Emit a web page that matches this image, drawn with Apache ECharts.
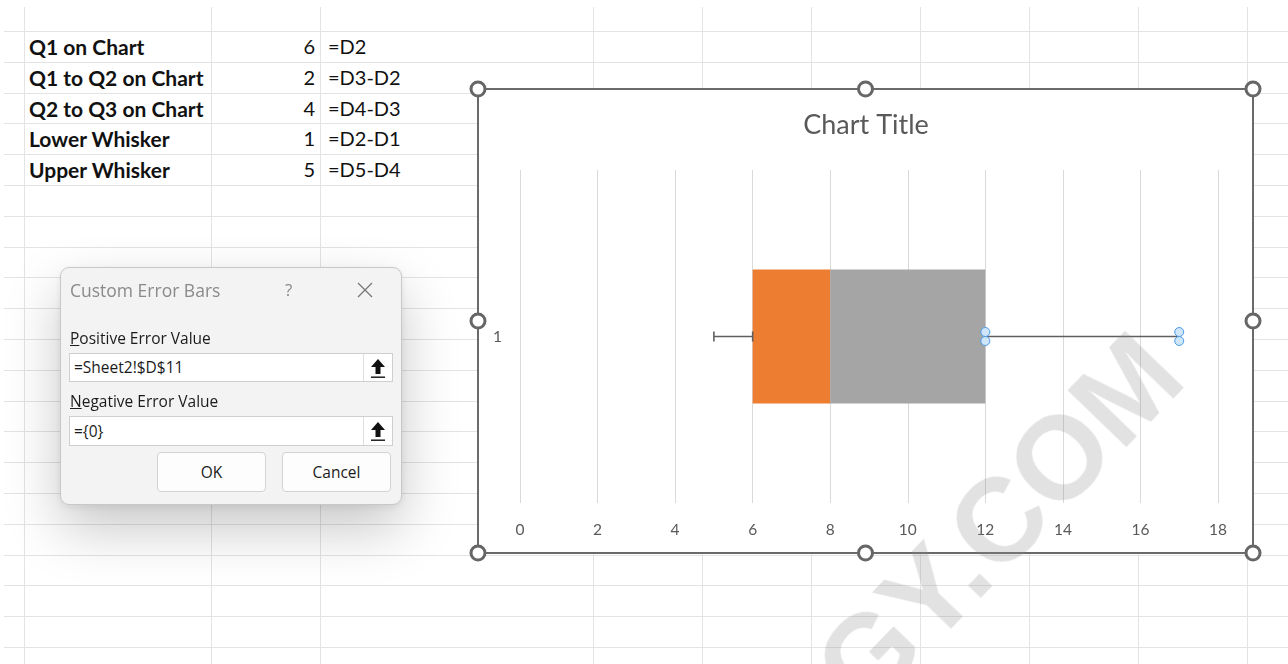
<!DOCTYPE html>
<html>
<head>
<meta charset="utf-8">
<title>Box plot with error bars</title>
<script src="https://cdn.jsdelivr.net/npm/echarts@6/dist/echarts.min.js"></script>
<style>
  body { margin: 0; width: 1288px; height: 664px; position: relative; overflow: hidden; background: #fff; font-family: Lato, 'Open Sans', sans-serif; }
  .hl { position: absolute; left: 4px; right: 0; height: 1px; background: #e3e3e3; }
  .vl { position: absolute; top: 7px; bottom: 0; width: 1px; background: #e3e3e3; }
  .cell { position: absolute; height: 31px; line-height: 31px; font-size: 20px; color: #111; white-space: nowrap; }
  .lbl { left: 29px; font-weight: bold; font-size: 21px; }
  .num { left: 215px; width: 100px; text-align: right; }
  .fml { left: 328px; }
  #dlg { position: absolute; left: 60px; top: 267px; width: 342px; height: 238px; box-sizing: border-box;
         background: #f3f3f3; border: 1px solid #c8c8c8; border-radius: 9px;
         box-shadow: 0 24px 55px rgba(0,0,0,0.22), 0 2px 8px rgba(0,0,0,0.08);
         font-family: 'Open Sans', 'Noto Sans', sans-serif; z-index: 5; }
  #dlg .t { position: absolute; top: 10px; left: 9px; font-size: 17.5px; line-height: 24px; color: #8a8a8a; }
  #dlg .q { position: absolute; top: 10px; left: 224px; font-size: 17px; line-height: 24px; color: #8a8a8a; }
  #dlg .x { position: absolute; top: 14px; left: 296px; }
  #dlg .l { position: absolute; left: 9px; font-size: 15.5px; line-height: 22px; color: #1b1b1b; }
  #dlg .in { position: absolute; left: 8px; width: 324px; background: #fff; border: 1px solid #cfcfcf; box-sizing: border-box;
             font-size: 15.5px; color: #1b1b1b; padding-left: 4px; }
  #dlg .in .b { position: absolute; right: 0; top: 0; bottom: 0; width: 28px; border-left: 1px solid #dedede; display: flex; align-items: center; justify-content: center; }
  #dlg .btn { position: absolute; top: 184px; width: 109px; height: 40px; box-sizing: border-box; background: #fdfdfd;
              border: 1px solid #d2d2d2; border-radius: 4px; text-align: center; line-height: 38px; font-size: 15.5px; color: #1b1b1b; }
  #chart { position: absolute; left: 466px; top: 77px; width: 800px; height: 490px; z-index: 3; }
  #wm { position: absolute; left: 998px; top: 521px; transform: translate(-50%, -50%) rotate(-46deg);
        font-family: 'Liberation Sans', Arial, sans-serif; font-weight: bold; font-size: 118px; line-height: 1;
        color: rgba(140,140,140,0.25); white-space: nowrap; z-index: 10; pointer-events: none; }
</style>
</head>
<body>
<div id="sheet"></div>
<div id="table"></div>

<div id="dlg">
  <div class="t">Custom Error Bars</div>
  <div class="q">?</div>
  <svg class="x" width="16" height="16"><path d="M1 1 L15 15 M15 1 L1 15" stroke="#777" stroke-width="1.3" fill="none"/></svg>
  <div class="l" style="top:59px"><u>P</u>ositive Error Value</div>
  <div class="in" style="top:85px;height:29px;line-height:27px">=Sheet2!$D$11<span class="b"><svg width="18" height="22"><path d="M9 2 L16 10 L11.5 10 L11.5 17 L6.5 17 L6.5 10 L2 10 Z" fill="#111"/><rect x="2" y="19.5" width="14" height="1.4" fill="#111"/></svg></span></div>
  <div class="l" style="top:122px"><u>N</u>egative Error Value</div>
  <div class="in" style="top:148px;height:30px;line-height:28px">={0}<span class="b"><svg width="18" height="22"><path d="M9 2 L16 10 L11.5 10 L11.5 17 L6.5 17 L6.5 10 L2 10 Z" fill="#111"/><rect x="2" y="19.5" width="14" height="1.4" fill="#111"/></svg></span></div>
  <div class="btn" style="left:96px">OK</div>
  <div class="btn" style="left:221px">Cancel</div>
</div>

<div id="chart"></div>
<div id="wm">GY.COM</div>

<script>
// values from the sheet
const categories = ['1']
const q1OnChart = [6]
const q1ToQ2 = [2]
const q2ToQ3 = [4]
const lowerWhisker = [1]
const upperWhisker = [5]

const tableLabels = ['Q1 on Chart', 'Q1 to Q2 on Chart', 'Q2 to Q3 on Chart', 'Lower Whisker', 'Upper Whisker']
const tableValues = [q1OnChart[0], q1ToQ2[0], q2ToQ3[0], lowerWhisker[0], upperWhisker[0]]
const tableFormulas = ['=D2', '=D3-D2', '=D4-D3', '=D2-D1', '=D5-D4']

// spreadsheet grid
const sheet = document.getElementById('sheet')
const colLines = [24, 211, 320, 593, 702, 811, 920, 1029, 1138, 1247]
for (let n = 0; n <= 20; n++) {
  let d = document.createElement('div')
  d.className = 'hl'
  d.style.top = Math.round(31 + n * 30.8) + 'px'
  sheet.appendChild(d)
}
colLines.forEach(x => {
  let d = document.createElement('div')
  d.className = 'vl'
  d.style.left = x + 'px'
  sheet.appendChild(d)
})

// cell text
const table = document.getElementById('table')
for (let i = 0; i < tableLabels.length; i++) {
  let top = Math.round(31 + i * 30.8) + 'px'
  let a = document.createElement('div')
  a.className = 'cell lbl'
  a.style.top = top
  a.textContent = tableLabels[i]
  let b = document.createElement('div')
  b.className = 'cell num'
  b.style.top = top
  b.textContent = tableValues[i]
  let c = document.createElement('div')
  c.className = 'cell fml'
  c.style.top = top
  c.textContent = tableFormulas[i]
  table.appendChild(a)
  table.appendChild(b)
  table.appendChild(c)
}

// whisker ends built from the arrays
const whiskerData = categories.map((c, i) => {
  let q3 = q1OnChart[i] + q1ToQ2[i] + q2ToQ3[i]
  return [q1OnChart[i] - lowerWhisker[i], q1OnChart[i], q3, q3 + upperWhisker[i], i]
})

const handles = [[12, 12], [399.5, 12], [787, 12], [12, 244], [787, 244], [12, 476], [399.5, 476], [787, 476]]

let myChart = echarts.init(document.getElementById('chart'))
myChart.setOption({
  animation: false,
  title: {
    text: 'Chart Title',
    left: 'center',
    top: 30,
    textStyle: { color: '#595959', fontSize: 27, fontWeight: 'normal', fontFamily: 'Lato' }
  },
  grid: { left: 54, top: 93, width: 698, height: 333 },
  xAxis: {
    type: 'value',
    min: 0,
    max: 18,
    interval: 2,
    axisLine: { show: false },
    axisTick: { show: false },
    splitLine: { lineStyle: { color: '#d9d9d9', width: 1 } },
    axisLabel: { color: '#595959', fontSize: 15.5, margin: 19, fontFamily: 'Lato' }
  },
  yAxis: {
    type: 'category',
    data: categories,
    axisLine: { show: false },
    axisTick: { show: false },
    splitLine: { show: false },
    axisLabel: { color: '#595959', fontSize: 15.5, margin: 18, fontFamily: 'Lato' }
  },
  graphic: [
    { type: 'rect', z: -1, silent: true, shape: { x: 12, y: 12, width: 775, height: 464 }, style: { fill: '#fff', stroke: '#6a6a6a', lineWidth: 2 } }
  ].concat(handles.map(h => ({
    type: 'circle', z: 100, silent: true, shape: { cx: h[0], cy: h[1], r: 7 }, style: { fill: '#fff', stroke: '#666', lineWidth: 3 }
  }))),
  series: [
    { name: 'Q1', type: 'bar', stack: 'box', barWidth: '40.2%', data: q1OnChart, itemStyle: { color: 'rgba(0,0,0,0)' } },
    { name: 'Q1 to Q2', type: 'bar', stack: 'box', barWidth: '40.2%', data: q1ToQ2, itemStyle: { color: '#ED7D31' } },
    { name: 'Q2 to Q3', type: 'bar', stack: 'box', barWidth: '40.2%', data: q2ToQ3, itemStyle: { color: '#A5A5A5' } },
    {
      name: 'Whiskers',
      type: 'custom',
      z: 10,
      data: whiskerData,
      encode: { x: [0, 1, 2, 3], y: 4 },
      renderItem: function (params, api) {
        let c = api.value(4)
        let lo = api.coord([api.value(0), c])
        let q1 = api.coord([api.value(1), c])
        let q3 = api.coord([api.value(2), c])
        let hi = api.coord([api.value(3), c])
        let ls = { stroke: '#5f5f5f', lineWidth: 1.6 }
        let hs = { fill: '#cfe5fa', stroke: '#4a9be6', lineWidth: 1 }
        let kids = [
          { type: 'line', shape: { x1: lo[0], y1: lo[1], x2: q1[0], y2: q1[1] }, style: ls },
          { type: 'line', shape: { x1: lo[0], y1: lo[1] - 5, x2: lo[0], y2: lo[1] + 5 }, style: ls },
          { type: 'line', shape: { x1: q1[0], y1: q1[1] - 5, x2: q1[0], y2: q1[1] + 5 }, style: ls },
          { type: 'line', shape: { x1: q3[0], y1: q3[1], x2: hi[0], y2: hi[1] }, style: ls }
        ];
        [q3, hi].forEach(p => {
          kids.push({ type: 'circle', shape: { cx: p[0], cy: p[1] - 4.5, r: 4.5 }, style: hs })
          kids.push({ type: 'circle', shape: { cx: p[0], cy: p[1] + 4.5, r: 4.5 }, style: hs })
        })
        return { type: 'group', children: kids }
      }
    }
  ]
})
</script>
</body>
</html>
